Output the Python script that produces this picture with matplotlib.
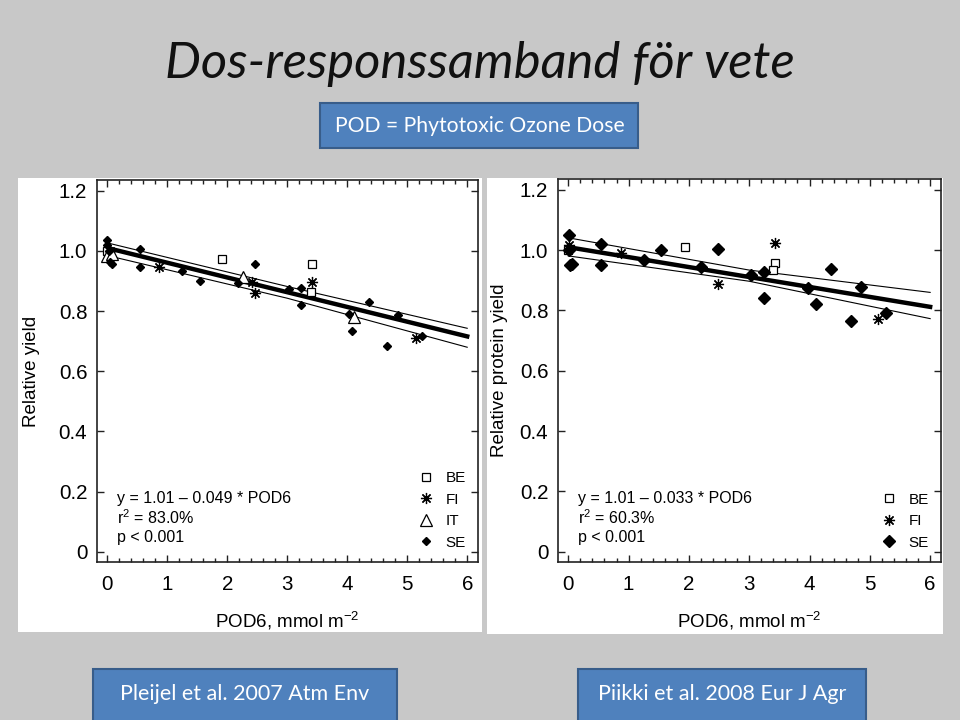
import numpy as np
import matplotlib
matplotlib.use("Agg")
import matplotlib.pyplot as plt
from matplotlib.patches import Rectangle
from matplotlib.ticker import MultipleLocator

# DATA

# left panel: relative yield (Pleijel et al. 2007)
yield_be_x = [0.0, 1.92, 3.41, 3.40]
yield_be_y = [1.0, 0.974, 0.956, 0.864]
yield_fi_x = [0.05, 0.87, 2.41, 2.46, 3.42, 5.14]
yield_fi_y = [1.0, 0.948, 0.898, 0.859, 0.896, 0.710]
yield_it_x = [0.0, 0.08, 2.26, 4.11]
yield_it_y = [0.982, 0.990, 0.915, 0.779]
yield_se_x = [0.0, 0.0, 0.03, 0.05, 0.08, 0.54, 0.54, 1.24, 1.54, 2.18,
              2.46, 3.03, 3.23, 3.23, 4.03, 4.08, 4.36, 4.66, 4.85, 5.24]
yield_se_y = [1.035, 1.02, 1.0, 0.963, 0.956, 1.006, 0.946, 0.932, 0.899, 0.892,
              0.956, 0.874, 0.878, 0.821, 0.790, 0.733, 0.832, 0.683, 0.786, 0.716]
yield_fit = (1.01, -0.049)
yield_band_x = [0, 3, 6]
yield_band_hi = [1.027, 0.882, 0.743]
yield_band_lo = [0.985, 0.843, 0.680]
yield_stats = ["y = 1.01 \u2013 0.049 * POD6", "r$^2$ = 83.0%", "p < 0.001"]

# right panel: relative protein yield (Piikki et al. 2008)
prot_be_x = [0.0, 1.94, 3.42, 3.40]
prot_be_y = [1.0, 1.011, 0.957, 0.933]
prot_fi_x = [0.02, 0.87, 2.48, 3.42, 5.14]
prot_fi_y = [1.017, 0.990, 0.888, 1.023, 0.771]
prot_se_x = [0.01, 0.02, 0.03, 0.07, 0.55, 0.55, 1.26, 1.54, 2.20, 2.48,
             3.03, 3.24, 3.24, 3.97, 4.11, 4.35, 4.68, 4.85, 5.26]
prot_se_y = [1.050, 1.0, 0.952, 0.955, 1.019, 0.952, 0.968, 1.0, 0.943, 1.003,
             0.917, 0.926, 0.842, 0.875, 0.822, 0.939, 0.765, 0.878, 0.793]
prot_fit = (1.01, -0.033)
prot_band_x = [0, 3, 6]
prot_band_hi = [1.041, 0.934, 0.860]
prot_band_lo = [0.981, 0.897, 0.773]
prot_stats = ["y = 1.01 \u2013 0.033 * POD6", "r$^2$ = 60.3%", "p < 0.001"]

x_ticks = [0, 1, 2, 3, 4, 5, 6]
y_ticks = [0, 0.2, 0.4, 0.6, 0.8, 1.0, 1.2]
y_ticklabels = ["0", "0.2", "0.4", "0.6", "0.8", "1.0", "1.2"]

title = "Dos-responssamband f\u00f6r vete"
subtitle = "POD = Phytotoxic Ozone Dose"
ref_left = "Pleijel et al. 2007 Atm Env"
ref_right = "Piikki et al. 2008 Eur J Agr"


# STYLE

plt.rcParams["font.family"] = ["Liberation Sans", "DejaVu Sans"]
plt.rcParams["mathtext.fontset"] = "custom"
plt.rcParams["mathtext.rm"] = "Liberation Sans"
plt.rcParams["mathtext.it"] = "Liberation Sans:italic"

W, H = 960, 720
fig = plt.figure(figsize=(9.6, 7.2), dpi=100, facecolor="#c8c8c8")


def px_box(x0, y0, x1, y1):
    # pixel box (top-left origin) -> figure fraction rect
    return [x0 / W, 1 - y1 / H, (x1 - x0) / W, (y1 - y0) / H]


def add_rect(x0, y0, x1, y1, face, edge="none", lw=0):
    l, b, w, h = px_box(x0, y0, x1, y1)
    fig.add_artist(Rectangle((l, b), w, h, transform=fig.transFigure,
                             facecolor=face, edgecolor=edge, linewidth=lw, zorder=0))


# white panels behind the two charts
add_rect(18, 178, 482, 632, "white")
add_rect(487, 178, 943, 634, "white")

# title and blue boxes
fig.text(480 / W, 1 - 78 / H, title, ha="center", va="baseline",
         fontsize=36.5, style="italic", family=["Lato", "DejaVu Sans"], color="#111111")

blue = "#4f81bd"
blue_edge = "#385d8a"
add_rect(320, 103, 638, 148, blue, blue_edge, 1.5)
fig.text(480 / W, 1 - 126 / H, subtitle, ha="center", va="center",
         fontsize=15.2, family=["Lato", "DejaVu Sans"], color="white")

add_rect(93, 669, 397, 730, blue, blue_edge, 1.5)
fig.text(245 / W, 1 - 694 / H, ref_left, ha="center", va="center",
         fontsize=15.5, family=["Lato", "DejaVu Sans"], color="white")
add_rect(578, 669, 866, 730, blue, blue_edge, 1.5)
fig.text(722 / W, 1 - 694 / H, ref_right, ha="center", va="center",
         fontsize=15.5, family=["Lato", "DejaVu Sans"], color="white")


def draw_panel(ax, series, fit, band_x, band_hi, band_lo, stats, ylabel, ylabel_x):
    for xs, ys, lab, style in series:
        ax.plot(xs, ys, linestyle="none", label=lab, zorder=3, **style)

    fx = np.array([0, 6])
    ax.plot(fx, fit[0] + fit[1] * fx, color="black", lw=3.2, zorder=2)
    ax.plot(band_x, band_hi, color="black", lw=0.8, zorder=2)
    ax.plot(band_x, band_lo, color="black", lw=0.8, zorder=2)

    ax.set_xlim(-0.17, 6.18)
    ax.set_ylim(-0.034, 1.236)
    ax.set_xticks(x_ticks)
    ax.xaxis.set_minor_locator(MultipleLocator(0.2))
    ax.set_yticks(y_ticks)
    ax.set_yticklabels(y_ticklabels)
    ax.tick_params(which="both", direction="in", top=True, right=True,
                   labelsize=14.8, color="#222222")
    ax.tick_params(which="major", length=5, width=1)
    ax.tick_params(which="minor", length=3, width=1)
    ax.tick_params(axis="y", pad=7)
    ax.tick_params(axis="x", pad=9)
    for sp in ax.spines.values():
        sp.set_color("#222222")
        sp.set_linewidth(1.2)

    ax.set_xlabel("POD6, mmol m$^{-2}$", fontsize=13.5)
    ax.xaxis.set_label_coords(0.5, -0.125)
    ax.set_ylabel(ylabel, fontsize=13.5)
    ax.yaxis.set_label_coords(ylabel_x, 0.5)

    for i, s in enumerate(stats):
        ax.text(0.052, 0.167 - i * 0.052, s, transform=ax.transAxes,
                ha="left", va="center", fontsize=11.5)

    ax.legend(loc="lower right", frameon=False, fontsize=11, handlelength=1.0,
              handletextpad=0.8, labelspacing=0.5, borderaxespad=0.4, numpoints=1)


be_style = dict(marker="s", mfc="white", mec="black", ms=5.5, mew=0.9)
fi_style = dict(marker=(8, 2, 0), color="black", ms=8, mew=0.9)
it_style = dict(marker="^", mfc="white", mec="black", ms=8, mew=0.9)

ax1 = fig.add_axes(px_box(97, 180, 478, 562))
draw_panel(ax1,
           [(yield_be_x, yield_be_y, "BE", be_style),
            (yield_fi_x, yield_fi_y, "FI", fi_style),
            (yield_it_x, yield_it_y, "IT", it_style),
            (yield_se_x, yield_se_y, "SE", dict(marker="D", color="black", ms=4.5))],
           yield_fit, yield_band_x, yield_band_hi, yield_band_lo, yield_stats,
           "Relative yield", -0.15)

ax2 = fig.add_axes(px_box(558, 179, 941, 562))
draw_panel(ax2,
           [(prot_be_x, prot_be_y, "BE", be_style),
            (prot_fi_x, prot_fi_y, "FI", fi_style),
            (prot_se_x, prot_se_y, "SE", dict(marker="D", color="black", ms=6.5))],
           prot_fit, prot_band_x, prot_band_hi, prot_band_lo, prot_stats,
           "Relative protein yield", -0.131)

fig.savefig("out.png", dpi=100, facecolor=fig.get_facecolor())
